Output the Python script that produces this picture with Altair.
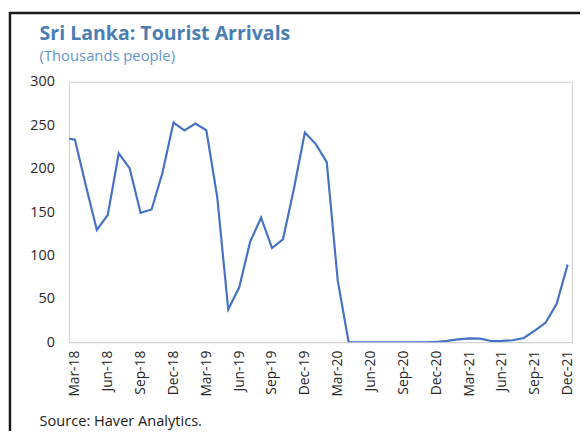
import json
import altair as alt
import pandas as pd

# Monthly tourist arrivals, thousands (Feb-18 partly visible at left edge)
months = [
    "Feb-18", "Mar-18", "Apr-18", "May-18", "Jun-18", "Jul-18", "Aug-18", "Sep-18", "Oct-18", "Nov-18", "Dec-18",
    "Jan-19", "Feb-19", "Mar-19", "Apr-19", "May-19", "Jun-19", "Jul-19", "Aug-19", "Sep-19", "Oct-19", "Nov-19", "Dec-19",
    "Jan-20", "Feb-20", "Mar-20", "Apr-20", "May-20", "Jun-20", "Jul-20", "Aug-20", "Sep-20", "Oct-20", "Nov-20", "Dec-20",
    "Jan-21", "Feb-21", "Mar-21", "Apr-21", "May-21", "Jun-21", "Jul-21", "Aug-21", "Sep-21", "Oct-21", "Nov-21", "Dec-21",
]
values = [
    235.6, 233.4, 180.4, 129.5, 146.8, 217.8, 200.4, 149.1, 153.1, 195.6, 253.2,
    244.2, 252.0, 244.3, 167.0, 37.8, 63.1, 115.7, 143.6, 108.6, 118.7, 177.0, 241.7,
    228.4, 207.5, 71.4, 0.0, 0.0, 0.0, 0.0, 0.0, 0.0, 0.0, 0.0, 0.4,
    1.7, 3.4, 4.6, 4.2, 1.5, 1.6, 2.4, 5.0, 13.5, 22.8, 44.3, 89.5,
]
tick_labels = ["Mar-18", "Jun-18", "Sep-18", "Dec-18", "Mar-19", "Jun-19", "Sep-19", "Dec-19",
               "Mar-20", "Jun-20", "Sep-20", "Dec-20", "Mar-21", "Jun-21", "Sep-21", "Dec-21"]
y_ticks = [0, 50, 100, 150, 200, 250, 300]

title_text = "Sri Lanka: Tourist Arrivals"
subtitle_text = "(Thousands people)"
source_text = "Source: Haver Analytics."

FONT = "Open Sans"

# month index relative to Mar-18
df = pd.DataFrame({"idx": [i - 1 for i in range(len(months))], "value": values, "month": months})

W, H = 510, 264
label_expr = json.dumps(tick_labels) + "[round(datum.value/3)]"

line = alt.Chart(df).mark_line(color="#4472c4", strokeWidth=2.2, clip=True).encode(
    x=alt.X("idx:Q",
            scale=alt.Scale(domain=[-0.53, 45.41], nice=False, zero=False),
            axis=alt.Axis(values=list(range(0, 46, 3)), labelExpr=label_expr, labelAngle=-90,
                          grid=False, domain=False, ticks=False, labelPadding=8,
                          labelFontSize=14, labelFont=FONT, labelColor="#262626",
                          labelOverlap=False, labelFlush=False, title=None)),
    y=alt.Y("value:Q",
            scale=alt.Scale(domain=[0, 300], nice=False),
            axis=alt.Axis(values=y_ticks, grid=False, domain=False, ticks=False,
                          labelPadding=15, labelFontSize=14.5, labelFont=FONT,
                          labelColor="#262626", title=None)),
)

base = alt.Chart(pd.DataFrame({"a": [0]}))

frame_top = base.mark_rule(color="#1a1a1a", strokeWidth=2.5).encode(
    x=alt.value(-60), x2=alt.value(518), y=alt.value(-70))
frame_left = base.mark_rule(color="#1a1a1a", strokeWidth=2.5).encode(
    x=alt.value(-60), y=alt.value(-71), y2=alt.value(354))

title = base.mark_text(align="left", baseline="alphabetic", font=FONT, fontSize=19.8,
                       fontWeight="bold", color="#4a7eb3").encode(
    x=alt.value(-30), y=alt.value(-43), text=alt.value(title_text))
subtitle = base.mark_text(align="left", baseline="alphabetic", font=FONT, fontSize=15,
                          color="#6495cc").encode(
    x=alt.value(-30), y=alt.value(-21), text=alt.value(subtitle_text))
source = base.mark_text(align="left", baseline="alphabetic", font=FONT, fontSize=14.8,
                        color="#1a1a1a").encode(
    x=alt.value(-30), y=alt.value(349), text=alt.value(source_text))

chart = alt.layer(line, frame_top, frame_left, title, subtitle, source).properties(
    width=W, height=H,
    autosize=alt.AutoSizeParams(type="none"),
    padding={"left": 62, "top": 72, "right": 8, "bottom": 90},
).configure_view(stroke="#d4d4d4", strokeWidth=1.2)

chart.save("out.html", embed_options={"renderer": "svg", "actions": False})
